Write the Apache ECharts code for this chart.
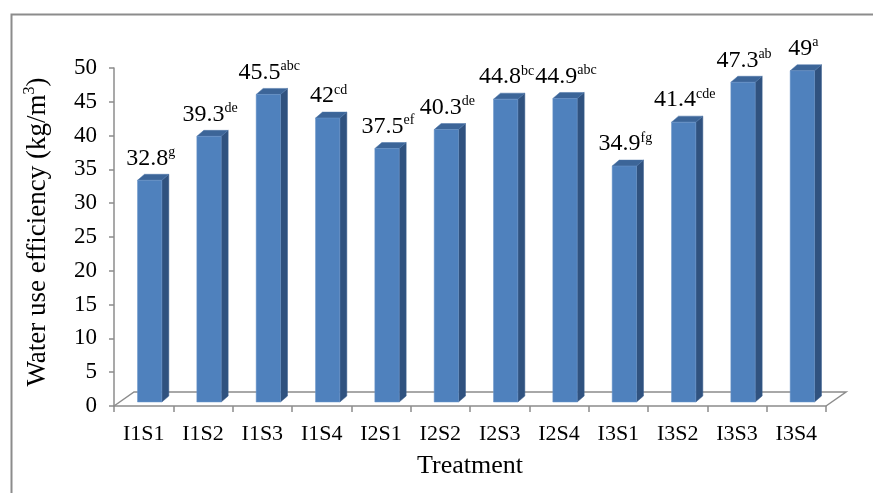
<!DOCTYPE html>
<html>
<head>
<meta charset="utf-8">
<script src="https://cdn.jsdelivr.net/npm/echarts@6/dist/echarts.min.js"></script>
<style>
html,body{margin:0;padding:0;background:#fff;}
#c{width:873px;height:493px;}
</style>
</head>
<body>
<div id="c"></div>
<script>
const categories = ['I1S1','I1S2','I1S3','I1S4','I2S1','I2S2','I2S3','I2S4','I3S1','I3S2','I3S3','I3S4'];
const values = [32.8, 39.3, 45.5, 42, 37.5, 40.3, 44.8, 44.9, 34.9, 41.4, 47.3, 49];
const letters = ['g','de','abc','cd','ef','de','bc','abc','fg','cde','ab','a'];
const yMin = 0, yMax = 50, yStep = 5;

const FONT = 'Liberation Serif';
const FRONT_DX = 6, FRONT_DY = -4;   // bar placement depth in the floor
const DEPTH_DX = 7, DEPTH_DY = -6;   // bar thickness
const FLOOR_DX = 20, FLOOR_DY = -14; // floor depth
const AXIS_COLOR = '#8c8c8c';

const chart = echarts.init(document.getElementById('c'), null, {renderer:'canvas'});

function renderFloor(params, api) {
  const n = categories.length;
  const a = api.coord([0, 0]);
  const band = api.size([1, 0])[0];
  const x0 = a[0] - band / 2, x1 = x0 + band * n, y0 = a[1];
  return {
    type: 'polyline',
    shape: { points: [[x0, y0], [x0 + FLOOR_DX, y0 + FLOOR_DY], [x1 + FLOOR_DX, y0 + FLOOR_DY], [x1, y0]] },
    style: { stroke: AXIS_COLOR, lineWidth: 1.5, fill: null }
  };
}

function renderBar(params, api) {
  const i = api.value(0), v = api.value(1);
  const top = api.coord([i, v]);
  const base = api.coord([i, 0]);
  const band = api.size([1, 0])[0];
  const w = band * 0.41;
  const x0 = top[0] - w / 2 + FRONT_DX, x1 = x0 + w;
  const yT = top[1] + FRONT_DY, yB = base[1] + FRONT_DY;
  return {
    type: 'group',
    children: [
      { type: 'polygon', shape: { points: [[x1, yT], [x1 + DEPTH_DX, yT + DEPTH_DY], [x1 + DEPTH_DX, yB + DEPTH_DY], [x1, yB]] },
        style: { fill: '#30527f', stroke: '#3a5f8f', lineWidth: 0.5 } },
      { type: 'polygon', shape: { points: [[x0, yT], [x0 + DEPTH_DX, yT + DEPTH_DY], [x1 + DEPTH_DX, yT + DEPTH_DY], [x1, yT]] },
        style: { fill: '#3c6598', stroke: '#4a74a8', lineWidth: 0.5 } },
      { type: 'rect', shape: { x: x0, y: yT, width: w, height: yB - yT },
        style: { fill: '#4f81bd', stroke: '#6a94c8', lineWidth: 0.5 } },
      { type: 'text', x: x0 + w / 2 + 1, y: yT + DEPTH_DY - 4,
        style: { text: '{v|' + values[i] + '}{s|' + letters[i] + '}', align: 'center', verticalAlign: 'bottom',
          rich: {
            v: { fontFamily: FONT, fontSize: 24, fill: '#000', lineHeight: 25, verticalAlign: 'bottom' },
            s: { fontFamily: FONT, fontSize: 14, fill: '#000', lineHeight: 25, verticalAlign: 'top' }
          } } }
    ]
  };
}

chart.setOption({
  animation: false,
  backgroundColor: '#fff',
  graphic: [{
    type: 'rect', left: 9, top: 12, shape: { width: 900, height: 520 },
    style: { fill: null, stroke: '#8c8c8c', lineWidth: 2 }, silent: true
  }],
  grid: { left: 114, right: 47, top: 68, bottom: 87, containLabel: false },
  xAxis: {
    type: 'category', data: categories, boundaryGap: true,
    name: 'Treatment', nameLocation: 'middle', nameGap: 47,
    nameTextStyle: { fontFamily: FONT, fontSize: 26, color: '#000' },
    axisLine: { show: true, lineStyle: { color: AXIS_COLOR, width: 1.5 } },
    axisTick: { show: true, length: 6, interval: 0, alignWithLabel: false, lineStyle: { color: AXIS_COLOR, width: 1.5 } },
    axisLabel: { interval: 0, margin: 17, fontFamily: FONT, fontSize: 22, color: '#000' },
    splitLine: { show: false }
  },
  yAxis: {
    type: 'value', min: yMin, max: yMax, interval: yStep,
    name: '{t|Water use efficiency (kg/m}{sup|3}{t|)}', nameLocation: 'middle', nameRotate: 90, nameGap: 63,
    nameTextStyle: { fontFamily: FONT, fontSize: 27, color: '#000', padding: [0, 0, 0, 10],
      rich: { t: { fontFamily: FONT, fontSize: 27, color: '#000', lineHeight: 29, verticalAlign: 'bottom' },
              sup: { fontFamily: FONT, fontSize: 16, color: '#000', lineHeight: 29, verticalAlign: 'top' } } },
    axisLine: { show: true, lineStyle: { color: AXIS_COLOR, width: 1.5 } },
    axisTick: { show: true, length: 5, lineStyle: { color: AXIS_COLOR, width: 1.5 } },
    axisLabel: { margin: 17, fontFamily: FONT, fontSize: 23, color: '#000' },
    splitLine: { show: false }
  },
  series: [
    { type: 'custom', data: [[0, 0]], renderItem: renderFloor, z: 1, silent: true },
    { type: 'custom', data: values.map((v, i) => [i, v]), renderItem: renderBar, z: 2, clip: false }
  ]
});
</script>
</body>
</html>
